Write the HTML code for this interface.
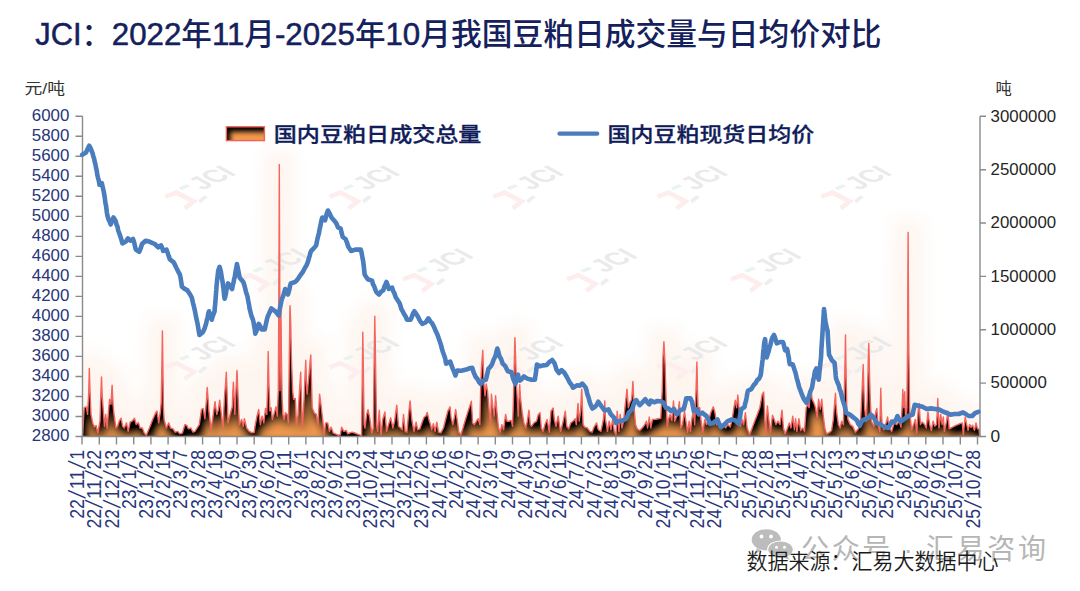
<!DOCTYPE html>
<html lang="zh"><head><meta charset="utf-8"><title>JCI</title>
<style>
html,body{margin:0;padding:0;background:#fff;}
body{width:1080px;height:591px;overflow:hidden;}
svg{display:block;}
text{font-family:"Liberation Sans","Noto Sans CJK SC",sans-serif;}
.nv{fill:#27367a;}
.sl{font-family:"DejaVu Sans","Liberation Sans",sans-serif;font-weight:200;}
.tt{fill:#14215c;font-weight:500;}
.lg{fill:#101d5a;font-weight:500;stroke:#101d5a;stroke-width:0.3px;}
</style></head><body>
<svg width="1080" height="591" viewBox="0 0 1080 591">
<defs>
<clipPath id="plot"><rect x="82.5" y="100" width="897.5" height="336.5"/></clipPath>
<filter id="glow" filterUnits="userSpaceOnUse" x="20" y="60" width="1040" height="440" color-interpolation-filters="sRGB">
<feMorphology in="SourceAlpha" operator="dilate" radius="14"/>
<feGaussianBlur stdDeviation="9"/>
<feComponentTransfer result="a"><feFuncA type="linear" slope="0.17"/></feComponentTransfer>
<feFlood flood-color="#f6c3a0"/><feComposite operator="in" in2="a"/>
</filter>
<filter id="inner" filterUnits="userSpaceOnUse" x="40" y="100" width="1000" height="380" color-interpolation-filters="sRGB">
<feComponentTransfer in="SourceAlpha"><feFuncA type="table" tableValues="1 0"/></feComponentTransfer>
<feOffset dx="3" dy="7"/>
<feGaussianBlur stdDeviation="5"/>
<feComponentTransfer><feFuncA type="linear" slope="1.35"/></feComponentTransfer>
<feComposite operator="in" in2="SourceAlpha" result="s"/>
<feFlood flood-color="#000"/><feComposite operator="in" in2="s" result="sh"/>
<feMerge><feMergeNode in="SourceGraphic"/><feMergeNode in="sh"/></feMerge>
</filter>
<filter id="inner2" filterUnits="userSpaceOnUse" x="200" y="110" width="90" height="50" color-interpolation-filters="sRGB">
<feComponentTransfer in="SourceAlpha"><feFuncA type="table" tableValues="1 0"/></feComponentTransfer>
<feOffset dx="4" dy="4.5"/>
<feGaussianBlur stdDeviation="2.6"/>
<feComposite operator="in" in2="SourceAlpha" result="s"/>
<feFlood flood-color="#000"/><feComposite operator="in" in2="s" result="sh"/>
<feMerge><feMergeNode in="SourceGraphic"/><feMergeNode in="sh"/></feMerge>
</filter>
<g id="wm">
<path d="M0,0 L11.2,-4.2 L28.4,4.6 L19.3,11.5" fill="none" stroke="#fdeeed" stroke-width="4.6"/>
<path d="M13.3,-9.1 L21.7,-12.6 L25,-10.5 L16.5,-6.8 Z" fill="#e8f4ed"/>
<path d="M33,3.5 L39,-1.5 L42.5,0.5 L35,6.5 Z" fill="#eeeeee"/>
<text transform="matrix(0.797,-0.372,0.875,0.485,37.4,-6.4)" font-size="28" fill="#eaeaea" font-weight="700">JCI</text>
</g>
</defs>
<rect width="1080" height="591" fill="#fff"/>

<g clip-path="url(#plot)"><path d="M82.5,436.1 L83.0,428.0 L84.2,407.7 L86.4,406.8 L87.6,414.4 L88.8,390.8 L89.3,368.4 L90.0,390.8 L91.0,414.4 L92.7,422.9 L94.4,427.1 L96.1,425.4 L97.8,433.0 L100.0,421.2 L100.8,395.8 L101.5,376.9 L102.2,395.8 L103.3,411.1 L104.5,426.3 L105.7,414.4 L107.1,428.0 L108.8,407.7 L109.6,399.2 L111.0,404.3 L112.1,385.3 L113.0,404.3 L113.8,412.7 L115.9,428.0 L117.6,426.3 L119.2,421.2 L121.1,418.2 L122.6,426.3 L124.3,428.0 L126.5,422.9 L128.2,431.4 L130.2,422.1 L132.4,420.9 L134.5,418.2 L136.2,424.6 L138.4,422.6 L140.1,428.0 L142.3,428.0 L144.3,433.0 L146.3,435.2 L149.4,428.0 L152.7,419.5 L156.1,411.9 L157.0,411.1 L158.7,422.9 L160.5,411.1 L161.2,402.6 L161.9,365.4 L162.4,330.9 L162.9,365.4 L163.4,407.7 L164.1,419.5 L166.3,428.0 L168.8,422.9 L170.5,428.0 L173.0,428.8 L175.1,432.2 L177.8,431.4 L179.8,433.9 L182.4,433.0 L184.9,424.6 L186.9,425.4 L188.3,428.8 L190.8,428.0 L193.0,432.2 L195.0,431.4 L197.1,428.0 L199.3,424.6 L201.5,409.4 L203.2,408.5 L204.9,418.7 L206.5,399.2 L207.2,387.4 L208.1,399.2 L208.9,411.1 L211.1,429.7 L213.3,414.4 L215.0,401.7 L216.7,414.4 L218.4,409.4 L219.7,400.1 L221.3,414.4 L223.0,428.0 L224.6,395.8 L225.7,382.3 L226.3,372.1 L227.0,390.8 L228.0,422.9 L230.6,412.7 L232.3,406.8 L232.9,390.8 L233.4,382.3 L234.1,395.8 L234.8,414.4 L236.0,390.8 L237.0,370.5 L237.8,390.8 L238.5,407.7 L239.4,424.6 L241.6,419.5 L243.3,426.3 L244.4,418.7 L246.6,428.0 L249.2,431.4 L251.7,432.7 L254.3,432.2 L255.0,426.3 L257.0,416.1 L258.7,409.4 L260.4,424.6 L262.1,416.1 L263.8,422.9 L265.5,408.5 L266.8,414.4 L267.7,382.3 L268.2,351.5 L268.9,382.3 L269.9,411.1 L271.1,407.7 L272.3,419.5 L273.9,414.4 L276.1,406.8 L277.3,416.1 L278.3,390.8 L278.9,289.2 L279.3,164.4 L279.7,272.3 L280.0,390.8 L280.4,356.9 L280.9,306.2 L281.4,356.9 L282.1,399.2 L282.9,414.4 L284.1,419.5 L285.5,412.7 L287.1,414.4 L288.5,422.9 L289.3,356.9 L290.0,305.7 L290.7,323.1 L291.4,356.9 L292.6,390.8 L293.6,399.2 L295.3,398.4 L296.4,424.6 L298.1,414.4 L299.5,390.8 L300.7,372.1 L301.5,404.3 L302.4,428.0 L304.1,399.2 L305.1,373.8 L305.8,360.3 L306.4,382.3 L307.1,394.1 L308.3,382.3 L309.1,373.8 L310.2,360.3 L310.8,354.9 L311.5,382.3 L312.2,407.7 L314.2,412.7 L316.2,414.4 L317.9,424.6 L318.9,407.7 L319.6,394.1 L320.5,400.9 L321.3,407.7 L322.7,419.5 L324.0,434.7 L325.7,422.9 L327.7,422.9 L329.4,431.4 L331.1,427.1 L333.2,433.0 L335.4,433.9 L337.9,435.2 L340.4,434.7 L341.6,427.1 L343.8,431.4 L346.4,430.5 L347.7,433.9 L349.7,433.0 L352.3,432.2 L354.8,433.0 L358.2,434.4 L361.6,435.6 L362.3,373.8 L362.8,332.2 L363.4,373.8 L364.1,424.6 L365.0,428.0 L366.7,414.4 L368.0,409.7 L369.7,417.8 L371.7,433.0 L373.4,428.0 L374.1,365.4 L374.8,316.3 L375.6,365.4 L376.5,424.6 L377.7,431.4 L378.5,419.5 L379.3,410.2 L380.2,424.6 L381.0,434.7 L382.7,419.5 L384.9,411.9 L386.6,431.4 L388.6,424.6 L390.7,417.8 L392.9,428.0 L394.6,421.2 L395.9,411.1 L396.8,405.1 L397.6,416.1 L398.5,426.3 L400.5,428.0 L402.2,429.7 L403.5,414.4 L405.2,431.4 L406.9,432.2 L408.6,414.4 L409.5,406.0 L410.1,400.9 L411.0,411.1 L412.0,421.2 L414.0,431.4 L416.1,422.1 L417.7,429.7 L419.9,428.8 L422.5,421.2 L424.2,417.0 L425.9,416.1 L427.2,412.4 L429.3,421.2 L430.0,422.9 L431.7,429.7 L433.4,423.7 L435.1,431.4 L436.8,422.1 L438.5,432.2 L441.0,432.7 L443.5,428.0 L445.6,419.5 L447.8,411.1 L450.0,406.8 L451.1,417.8 L452.8,424.6 L454.0,419.5 L455.7,409.4 L457.1,419.5 L458.8,432.2 L460.8,434.7 L463.0,428.0 L465.5,419.5 L468.1,411.1 L471.4,401.2 L472.6,422.9 L474.3,424.6 L476.5,421.2 L478.2,418.7 L479.9,424.6 L480.8,382.3 L481.6,365.4 L482.8,350.2 L483.8,382.3 L485.0,395.8 L486.2,384.0 L487.5,390.8 L489.2,411.1 L490.6,424.6 L491.4,394.1 L492.9,407.7 L494.3,416.1 L495.6,395.8 L496.8,411.1 L498.5,428.0 L500.2,432.2 L501.9,424.6 L503.6,429.7 L505.6,414.4 L507.0,421.2 L509.2,421.2 L511.2,420.4 L512.6,426.3 L513.7,390.8 L514.4,356.9 L514.9,337.8 L515.6,356.9 L516.3,382.3 L517.1,395.8 L518.3,416.1 L519.0,399.2 L519.7,384.8 L520.3,395.8 L521.0,402.6 L522.2,412.7 L523.9,422.9 L525.6,428.0 L527.3,421.2 L529.0,410.2 L530.2,424.6 L531.5,426.3 L534.0,422.9 L536.6,421.2 L538.3,414.4 L540.0,412.7 L541.3,428.0 L543.0,431.4 L545.0,424.6 L547.1,419.5 L549.3,432.2 L551.0,411.1 L553.2,408.0 L554.3,419.5 L556.0,426.3 L558.2,416.1 L559.4,424.6 L560.6,431.4 L562.8,422.9 L565.3,411.1 L566.7,426.3 L568.7,428.8 L570.8,422.9 L573.0,421.2 L575.2,418.7 L576.3,424.6 L578.0,403.4 L579.2,421.2 L580.6,411.1 L581.2,397.5 L581.8,389.1 L582.4,407.7 L583.1,424.6 L584.8,427.1 L587.3,428.0 L589.9,431.4 L592.1,432.2 L594.1,427.1 L596.6,422.9 L598.3,429.7 L600.9,431.4 L603.4,419.5 L604.3,407.7 L604.8,400.9 L605.4,419.5 L606.4,424.6 L607.5,431.4 L609.2,421.2 L610.9,429.7 L612.6,419.5 L614.3,431.4 L616.0,434.7 L617.2,411.1 L618.9,431.4 L620.2,414.4 L621.9,428.0 L623.6,421.2 L625.3,404.3 L627.0,389.1 L628.3,407.7 L630.0,402.6 L631.7,399.2 L632.4,389.1 L632.9,381.4 L633.6,395.8 L634.1,407.7 L635.5,424.6 L637.1,428.8 L639.7,430.5 L642.2,428.0 L644.8,424.6 L646.4,421.2 L647.6,428.0 L649.3,417.0 L650.7,428.0 L652.4,419.5 L655.8,419.2 L660.8,418.2 L662.2,390.8 L663.0,356.9 L663.9,341.7 L664.5,353.5 L665.1,365.4 L666.2,404.3 L667.3,426.3 L668.4,419.5 L670.1,414.4 L671.8,420.4 L673.5,400.9 L674.7,421.2 L676.1,417.8 L677.7,414.4 L679.4,401.7 L680.8,428.0 L682.5,424.6 L684.5,411.1 L685.9,421.2 L687.6,432.2 L689.2,421.2 L690.4,431.4 L692.1,417.8 L693.3,411.1 L694.7,424.6 L696.0,390.8 L696.9,362.0 L697.5,390.8 L698.0,407.7 L699.7,407.7 L701.1,421.2 L702.8,432.2 L704.8,419.5 L706.5,424.6 L708.5,421.2 L710.7,412.7 L713.3,406.8 L715.0,412.7 L716.7,424.6 L718.7,421.2 L720.9,428.0 L723.4,424.6 L725.5,428.0 L727.7,424.6 L730.2,427.1 L732.2,419.5 L733.9,407.7 L735.3,400.1 L736.6,407.7 L737.8,395.0 L739.0,407.7 L740.3,426.3 L742.0,419.5 L743.7,424.6 L745.4,412.7 L747.1,428.0 L749.6,434.7 L752.2,428.0 L754.7,421.2 L757.3,414.4 L759.8,407.7 L762.3,394.1 L763.7,392.1 L764.9,421.2 L765.7,433.0 L767.4,406.0 L768.8,419.5 L770.5,432.2 L772.5,415.3 L774.2,419.5 L775.9,424.6 L777.9,421.2 L780.0,424.6 L782.0,410.2 L783.4,428.0 L785.1,433.9 L787.6,428.0 L789.3,422.9 L791.0,428.0 L792.7,416.1 L794.4,429.7 L795.6,418.7 L796.9,431.4 L798.9,418.7 L800.6,430.5 L802.8,428.0 L804.5,431.4 L806.2,407.7 L807.9,404.3 L809.1,407.7 L810.1,394.1 L810.8,386.5 L811.5,394.1 L812.1,399.2 L813.8,402.6 L815.5,407.7 L817.2,417.8 L818.6,399.2 L820.3,409.4 L821.8,399.2 L823.1,414.4 L824.8,428.0 L826.5,433.9 L829.1,432.7 L831.6,430.5 L833.3,419.5 L834.5,404.3 L835.5,393.3 L836.0,404.3 L836.7,412.7 L838.4,424.6 L840.1,428.0 L841.7,421.2 L843.4,424.6 L844.8,373.8 L845.5,334.9 L846.1,373.8 L846.8,407.7 L848.0,419.5 L850.2,424.6 L852.7,426.3 L855.3,432.2 L857.8,429.7 L860.4,424.6 L862.1,390.8 L863.2,364.5 L863.9,390.8 L864.6,407.7 L866.3,421.2 L867.6,390.8 L868.3,356.9 L868.8,343.4 L869.5,373.8 L870.2,399.2 L871.4,421.2 L873.9,426.3 L875.6,412.7 L876.8,408.5 L878.1,424.6 L879.8,431.4 L880.3,407.7 L880.8,388.2 L881.3,407.7 L882.0,424.6 L884.0,429.7 L886.6,421.2 L887.6,417.0 L889.1,428.0 L891.7,431.4 L894.2,422.9 L896.7,424.6 L899.3,421.2 L901.0,427.1 L902.1,407.7 L902.8,389.4 L903.5,404.3 L903.8,407.7 L904.7,391.6 L905.2,407.7 L905.7,419.5 L906.9,407.7 L907.6,340.0 L908.1,232.4 L908.7,340.0 L909.6,407.7 L910.3,417.8 L911.6,429.7 L913.6,424.6 L915.3,419.5 L916.7,433.0 L918.4,407.7 L919.2,403.4 L919.9,416.1 L920.4,424.6 L922.1,422.1 L924.6,424.6 L926.3,428.0 L928.0,411.9 L928.9,419.5 L929.7,424.6 L931.4,430.5 L933.1,421.2 L934.8,426.3 L936.5,424.6 L937.3,411.1 L937.8,398.4 L938.3,412.7 L939.0,428.0 L940.7,414.4 L942.1,424.6 L943.3,417.0 L944.4,431.4 L946.6,421.2 L947.8,411.1 L949.2,428.8 L952.6,427.1 L955.9,425.4 L959.0,424.1 L960.0,423.7 L962.2,423.0 L963.3,434.8 L965.2,417.0 L966.7,424.4 L968.1,430.4 L969.6,424.4 L971.1,427.4 L972.6,425.2 L974.5,430.4 L976.0,423.0 L977.5,428.9 L979.0,428.9 L979.7,436.0 L979.7,436.5 L82.5,436.5 Z" fill="#000" stroke="#000" stroke-width="1.5" filter="url(#glow)"/></g>
<g clip-path="url(#plot)"><use href="#wm" x="165.3" y="196.8"/><use href="#wm" x="165.3" y="367.4"/><use href="#wm" x="329.3" y="196.8"/><use href="#wm" x="329.3" y="367.4"/><use href="#wm" x="493.3" y="196.8"/><use href="#wm" x="493.3" y="367.4"/><use href="#wm" x="657.3" y="196.8"/><use href="#wm" x="657.3" y="367.4"/><use href="#wm" x="821.3" y="196.8"/><use href="#wm" x="821.3" y="367.4"/><use href="#wm" x="239.0" y="279.4"/><use href="#wm" x="403.0" y="279.4"/><use href="#wm" x="567.0" y="279.4"/><use href="#wm" x="731.0" y="279.4"/></g>
<path d="M82.5,436.1 L83.0,428.0 L84.2,407.7 L86.4,406.8 L87.6,414.4 L88.8,390.8 L89.3,368.4 L90.0,390.8 L91.0,414.4 L92.7,422.9 L94.4,427.1 L96.1,425.4 L97.8,433.0 L100.0,421.2 L100.8,395.8 L101.5,376.9 L102.2,395.8 L103.3,411.1 L104.5,426.3 L105.7,414.4 L107.1,428.0 L108.8,407.7 L109.6,399.2 L111.0,404.3 L112.1,385.3 L113.0,404.3 L113.8,412.7 L115.9,428.0 L117.6,426.3 L119.2,421.2 L121.1,418.2 L122.6,426.3 L124.3,428.0 L126.5,422.9 L128.2,431.4 L130.2,422.1 L132.4,420.9 L134.5,418.2 L136.2,424.6 L138.4,422.6 L140.1,428.0 L142.3,428.0 L144.3,433.0 L146.3,435.2 L149.4,428.0 L152.7,419.5 L156.1,411.9 L157.0,411.1 L158.7,422.9 L160.5,411.1 L161.2,402.6 L161.9,365.4 L162.4,330.9 L162.9,365.4 L163.4,407.7 L164.1,419.5 L166.3,428.0 L168.8,422.9 L170.5,428.0 L173.0,428.8 L175.1,432.2 L177.8,431.4 L179.8,433.9 L182.4,433.0 L184.9,424.6 L186.9,425.4 L188.3,428.8 L190.8,428.0 L193.0,432.2 L195.0,431.4 L197.1,428.0 L199.3,424.6 L201.5,409.4 L203.2,408.5 L204.9,418.7 L206.5,399.2 L207.2,387.4 L208.1,399.2 L208.9,411.1 L211.1,429.7 L213.3,414.4 L215.0,401.7 L216.7,414.4 L218.4,409.4 L219.7,400.1 L221.3,414.4 L223.0,428.0 L224.6,395.8 L225.7,382.3 L226.3,372.1 L227.0,390.8 L228.0,422.9 L230.6,412.7 L232.3,406.8 L232.9,390.8 L233.4,382.3 L234.1,395.8 L234.8,414.4 L236.0,390.8 L237.0,370.5 L237.8,390.8 L238.5,407.7 L239.4,424.6 L241.6,419.5 L243.3,426.3 L244.4,418.7 L246.6,428.0 L249.2,431.4 L251.7,432.7 L254.3,432.2 L255.0,426.3 L257.0,416.1 L258.7,409.4 L260.4,424.6 L262.1,416.1 L263.8,422.9 L265.5,408.5 L266.8,414.4 L267.7,382.3 L268.2,351.5 L268.9,382.3 L269.9,411.1 L271.1,407.7 L272.3,419.5 L273.9,414.4 L276.1,406.8 L277.3,416.1 L278.3,390.8 L278.9,289.2 L279.3,164.4 L279.7,272.3 L280.0,390.8 L280.4,356.9 L280.9,306.2 L281.4,356.9 L282.1,399.2 L282.9,414.4 L284.1,419.5 L285.5,412.7 L287.1,414.4 L288.5,422.9 L289.3,356.9 L290.0,305.7 L290.7,323.1 L291.4,356.9 L292.6,390.8 L293.6,399.2 L295.3,398.4 L296.4,424.6 L298.1,414.4 L299.5,390.8 L300.7,372.1 L301.5,404.3 L302.4,428.0 L304.1,399.2 L305.1,373.8 L305.8,360.3 L306.4,382.3 L307.1,394.1 L308.3,382.3 L309.1,373.8 L310.2,360.3 L310.8,354.9 L311.5,382.3 L312.2,407.7 L314.2,412.7 L316.2,414.4 L317.9,424.6 L318.9,407.7 L319.6,394.1 L320.5,400.9 L321.3,407.7 L322.7,419.5 L324.0,434.7 L325.7,422.9 L327.7,422.9 L329.4,431.4 L331.1,427.1 L333.2,433.0 L335.4,433.9 L337.9,435.2 L340.4,434.7 L341.6,427.1 L343.8,431.4 L346.4,430.5 L347.7,433.9 L349.7,433.0 L352.3,432.2 L354.8,433.0 L358.2,434.4 L361.6,435.6 L362.3,373.8 L362.8,332.2 L363.4,373.8 L364.1,424.6 L365.0,428.0 L366.7,414.4 L368.0,409.7 L369.7,417.8 L371.7,433.0 L373.4,428.0 L374.1,365.4 L374.8,316.3 L375.6,365.4 L376.5,424.6 L377.7,431.4 L378.5,419.5 L379.3,410.2 L380.2,424.6 L381.0,434.7 L382.7,419.5 L384.9,411.9 L386.6,431.4 L388.6,424.6 L390.7,417.8 L392.9,428.0 L394.6,421.2 L395.9,411.1 L396.8,405.1 L397.6,416.1 L398.5,426.3 L400.5,428.0 L402.2,429.7 L403.5,414.4 L405.2,431.4 L406.9,432.2 L408.6,414.4 L409.5,406.0 L410.1,400.9 L411.0,411.1 L412.0,421.2 L414.0,431.4 L416.1,422.1 L417.7,429.7 L419.9,428.8 L422.5,421.2 L424.2,417.0 L425.9,416.1 L427.2,412.4 L429.3,421.2 L430.0,422.9 L431.7,429.7 L433.4,423.7 L435.1,431.4 L436.8,422.1 L438.5,432.2 L441.0,432.7 L443.5,428.0 L445.6,419.5 L447.8,411.1 L450.0,406.8 L451.1,417.8 L452.8,424.6 L454.0,419.5 L455.7,409.4 L457.1,419.5 L458.8,432.2 L460.8,434.7 L463.0,428.0 L465.5,419.5 L468.1,411.1 L471.4,401.2 L472.6,422.9 L474.3,424.6 L476.5,421.2 L478.2,418.7 L479.9,424.6 L480.8,382.3 L481.6,365.4 L482.8,350.2 L483.8,382.3 L485.0,395.8 L486.2,384.0 L487.5,390.8 L489.2,411.1 L490.6,424.6 L491.4,394.1 L492.9,407.7 L494.3,416.1 L495.6,395.8 L496.8,411.1 L498.5,428.0 L500.2,432.2 L501.9,424.6 L503.6,429.7 L505.6,414.4 L507.0,421.2 L509.2,421.2 L511.2,420.4 L512.6,426.3 L513.7,390.8 L514.4,356.9 L514.9,337.8 L515.6,356.9 L516.3,382.3 L517.1,395.8 L518.3,416.1 L519.0,399.2 L519.7,384.8 L520.3,395.8 L521.0,402.6 L522.2,412.7 L523.9,422.9 L525.6,428.0 L527.3,421.2 L529.0,410.2 L530.2,424.6 L531.5,426.3 L534.0,422.9 L536.6,421.2 L538.3,414.4 L540.0,412.7 L541.3,428.0 L543.0,431.4 L545.0,424.6 L547.1,419.5 L549.3,432.2 L551.0,411.1 L553.2,408.0 L554.3,419.5 L556.0,426.3 L558.2,416.1 L559.4,424.6 L560.6,431.4 L562.8,422.9 L565.3,411.1 L566.7,426.3 L568.7,428.8 L570.8,422.9 L573.0,421.2 L575.2,418.7 L576.3,424.6 L578.0,403.4 L579.2,421.2 L580.6,411.1 L581.2,397.5 L581.8,389.1 L582.4,407.7 L583.1,424.6 L584.8,427.1 L587.3,428.0 L589.9,431.4 L592.1,432.2 L594.1,427.1 L596.6,422.9 L598.3,429.7 L600.9,431.4 L603.4,419.5 L604.3,407.7 L604.8,400.9 L605.4,419.5 L606.4,424.6 L607.5,431.4 L609.2,421.2 L610.9,429.7 L612.6,419.5 L614.3,431.4 L616.0,434.7 L617.2,411.1 L618.9,431.4 L620.2,414.4 L621.9,428.0 L623.6,421.2 L625.3,404.3 L627.0,389.1 L628.3,407.7 L630.0,402.6 L631.7,399.2 L632.4,389.1 L632.9,381.4 L633.6,395.8 L634.1,407.7 L635.5,424.6 L637.1,428.8 L639.7,430.5 L642.2,428.0 L644.8,424.6 L646.4,421.2 L647.6,428.0 L649.3,417.0 L650.7,428.0 L652.4,419.5 L655.8,419.2 L660.8,418.2 L662.2,390.8 L663.0,356.9 L663.9,341.7 L664.5,353.5 L665.1,365.4 L666.2,404.3 L667.3,426.3 L668.4,419.5 L670.1,414.4 L671.8,420.4 L673.5,400.9 L674.7,421.2 L676.1,417.8 L677.7,414.4 L679.4,401.7 L680.8,428.0 L682.5,424.6 L684.5,411.1 L685.9,421.2 L687.6,432.2 L689.2,421.2 L690.4,431.4 L692.1,417.8 L693.3,411.1 L694.7,424.6 L696.0,390.8 L696.9,362.0 L697.5,390.8 L698.0,407.7 L699.7,407.7 L701.1,421.2 L702.8,432.2 L704.8,419.5 L706.5,424.6 L708.5,421.2 L710.7,412.7 L713.3,406.8 L715.0,412.7 L716.7,424.6 L718.7,421.2 L720.9,428.0 L723.4,424.6 L725.5,428.0 L727.7,424.6 L730.2,427.1 L732.2,419.5 L733.9,407.7 L735.3,400.1 L736.6,407.7 L737.8,395.0 L739.0,407.7 L740.3,426.3 L742.0,419.5 L743.7,424.6 L745.4,412.7 L747.1,428.0 L749.6,434.7 L752.2,428.0 L754.7,421.2 L757.3,414.4 L759.8,407.7 L762.3,394.1 L763.7,392.1 L764.9,421.2 L765.7,433.0 L767.4,406.0 L768.8,419.5 L770.5,432.2 L772.5,415.3 L774.2,419.5 L775.9,424.6 L777.9,421.2 L780.0,424.6 L782.0,410.2 L783.4,428.0 L785.1,433.9 L787.6,428.0 L789.3,422.9 L791.0,428.0 L792.7,416.1 L794.4,429.7 L795.6,418.7 L796.9,431.4 L798.9,418.7 L800.6,430.5 L802.8,428.0 L804.5,431.4 L806.2,407.7 L807.9,404.3 L809.1,407.7 L810.1,394.1 L810.8,386.5 L811.5,394.1 L812.1,399.2 L813.8,402.6 L815.5,407.7 L817.2,417.8 L818.6,399.2 L820.3,409.4 L821.8,399.2 L823.1,414.4 L824.8,428.0 L826.5,433.9 L829.1,432.7 L831.6,430.5 L833.3,419.5 L834.5,404.3 L835.5,393.3 L836.0,404.3 L836.7,412.7 L838.4,424.6 L840.1,428.0 L841.7,421.2 L843.4,424.6 L844.8,373.8 L845.5,334.9 L846.1,373.8 L846.8,407.7 L848.0,419.5 L850.2,424.6 L852.7,426.3 L855.3,432.2 L857.8,429.7 L860.4,424.6 L862.1,390.8 L863.2,364.5 L863.9,390.8 L864.6,407.7 L866.3,421.2 L867.6,390.8 L868.3,356.9 L868.8,343.4 L869.5,373.8 L870.2,399.2 L871.4,421.2 L873.9,426.3 L875.6,412.7 L876.8,408.5 L878.1,424.6 L879.8,431.4 L880.3,407.7 L880.8,388.2 L881.3,407.7 L882.0,424.6 L884.0,429.7 L886.6,421.2 L887.6,417.0 L889.1,428.0 L891.7,431.4 L894.2,422.9 L896.7,424.6 L899.3,421.2 L901.0,427.1 L902.1,407.7 L902.8,389.4 L903.5,404.3 L903.8,407.7 L904.7,391.6 L905.2,407.7 L905.7,419.5 L906.9,407.7 L907.6,340.0 L908.1,232.4 L908.7,340.0 L909.6,407.7 L910.3,417.8 L911.6,429.7 L913.6,424.6 L915.3,419.5 L916.7,433.0 L918.4,407.7 L919.2,403.4 L919.9,416.1 L920.4,424.6 L922.1,422.1 L924.6,424.6 L926.3,428.0 L928.0,411.9 L928.9,419.5 L929.7,424.6 L931.4,430.5 L933.1,421.2 L934.8,426.3 L936.5,424.6 L937.3,411.1 L937.8,398.4 L938.3,412.7 L939.0,428.0 L940.7,414.4 L942.1,424.6 L943.3,417.0 L944.4,431.4 L946.6,421.2 L947.8,411.1 L949.2,428.8 L952.6,427.1 L955.9,425.4 L959.0,424.1 L960.0,423.7 L962.2,423.0 L963.3,434.8 L965.2,417.0 L966.7,424.4 L968.1,430.4 L969.6,424.4 L971.1,427.4 L972.6,425.2 L974.5,430.4 L976.0,423.0 L977.5,428.9 L979.0,428.9 L979.7,436.0 L979.7,436.5 L82.5,436.5 Z" fill="#f2994d" filter="url(#inner)"/>
<path d="M82.5,436.1 L83.0,428.0 L84.2,407.7 L86.4,406.8 L87.6,414.4 L88.8,390.8 L89.3,368.4 L90.0,390.8 L91.0,414.4 L92.7,422.9 L94.4,427.1 L96.1,425.4 L97.8,433.0 L100.0,421.2 L100.8,395.8 L101.5,376.9 L102.2,395.8 L103.3,411.1 L104.5,426.3 L105.7,414.4 L107.1,428.0 L108.8,407.7 L109.6,399.2 L111.0,404.3 L112.1,385.3 L113.0,404.3 L113.8,412.7 L115.9,428.0 L117.6,426.3 L119.2,421.2 L121.1,418.2 L122.6,426.3 L124.3,428.0 L126.5,422.9 L128.2,431.4 L130.2,422.1 L132.4,420.9 L134.5,418.2 L136.2,424.6 L138.4,422.6 L140.1,428.0 L142.3,428.0 L144.3,433.0 L146.3,435.2 L149.4,428.0 L152.7,419.5 L156.1,411.9 L157.0,411.1 L158.7,422.9 L160.5,411.1 L161.2,402.6 L161.9,365.4 L162.4,330.9 L162.9,365.4 L163.4,407.7 L164.1,419.5 L166.3,428.0 L168.8,422.9 L170.5,428.0 L173.0,428.8 L175.1,432.2 L177.8,431.4 L179.8,433.9 L182.4,433.0 L184.9,424.6 L186.9,425.4 L188.3,428.8 L190.8,428.0 L193.0,432.2 L195.0,431.4 L197.1,428.0 L199.3,424.6 L201.5,409.4 L203.2,408.5 L204.9,418.7 L206.5,399.2 L207.2,387.4 L208.1,399.2 L208.9,411.1 L211.1,429.7 L213.3,414.4 L215.0,401.7 L216.7,414.4 L218.4,409.4 L219.7,400.1 L221.3,414.4 L223.0,428.0 L224.6,395.8 L225.7,382.3 L226.3,372.1 L227.0,390.8 L228.0,422.9 L230.6,412.7 L232.3,406.8 L232.9,390.8 L233.4,382.3 L234.1,395.8 L234.8,414.4 L236.0,390.8 L237.0,370.5 L237.8,390.8 L238.5,407.7 L239.4,424.6 L241.6,419.5 L243.3,426.3 L244.4,418.7 L246.6,428.0 L249.2,431.4 L251.7,432.7 L254.3,432.2 L255.0,426.3 L257.0,416.1 L258.7,409.4 L260.4,424.6 L262.1,416.1 L263.8,422.9 L265.5,408.5 L266.8,414.4 L267.7,382.3 L268.2,351.5 L268.9,382.3 L269.9,411.1 L271.1,407.7 L272.3,419.5 L273.9,414.4 L276.1,406.8 L277.3,416.1 L278.3,390.8 L278.9,289.2 L279.3,164.4 L279.7,272.3 L280.0,390.8 L280.4,356.9 L280.9,306.2 L281.4,356.9 L282.1,399.2 L282.9,414.4 L284.1,419.5 L285.5,412.7 L287.1,414.4 L288.5,422.9 L289.3,356.9 L290.0,305.7 L290.7,323.1 L291.4,356.9 L292.6,390.8 L293.6,399.2 L295.3,398.4 L296.4,424.6 L298.1,414.4 L299.5,390.8 L300.7,372.1 L301.5,404.3 L302.4,428.0 L304.1,399.2 L305.1,373.8 L305.8,360.3 L306.4,382.3 L307.1,394.1 L308.3,382.3 L309.1,373.8 L310.2,360.3 L310.8,354.9 L311.5,382.3 L312.2,407.7 L314.2,412.7 L316.2,414.4 L317.9,424.6 L318.9,407.7 L319.6,394.1 L320.5,400.9 L321.3,407.7 L322.7,419.5 L324.0,434.7 L325.7,422.9 L327.7,422.9 L329.4,431.4 L331.1,427.1 L333.2,433.0 L335.4,433.9 L337.9,435.2 L340.4,434.7 L341.6,427.1 L343.8,431.4 L346.4,430.5 L347.7,433.9 L349.7,433.0 L352.3,432.2 L354.8,433.0 L358.2,434.4 L361.6,435.6 L362.3,373.8 L362.8,332.2 L363.4,373.8 L364.1,424.6 L365.0,428.0 L366.7,414.4 L368.0,409.7 L369.7,417.8 L371.7,433.0 L373.4,428.0 L374.1,365.4 L374.8,316.3 L375.6,365.4 L376.5,424.6 L377.7,431.4 L378.5,419.5 L379.3,410.2 L380.2,424.6 L381.0,434.7 L382.7,419.5 L384.9,411.9 L386.6,431.4 L388.6,424.6 L390.7,417.8 L392.9,428.0 L394.6,421.2 L395.9,411.1 L396.8,405.1 L397.6,416.1 L398.5,426.3 L400.5,428.0 L402.2,429.7 L403.5,414.4 L405.2,431.4 L406.9,432.2 L408.6,414.4 L409.5,406.0 L410.1,400.9 L411.0,411.1 L412.0,421.2 L414.0,431.4 L416.1,422.1 L417.7,429.7 L419.9,428.8 L422.5,421.2 L424.2,417.0 L425.9,416.1 L427.2,412.4 L429.3,421.2 L430.0,422.9 L431.7,429.7 L433.4,423.7 L435.1,431.4 L436.8,422.1 L438.5,432.2 L441.0,432.7 L443.5,428.0 L445.6,419.5 L447.8,411.1 L450.0,406.8 L451.1,417.8 L452.8,424.6 L454.0,419.5 L455.7,409.4 L457.1,419.5 L458.8,432.2 L460.8,434.7 L463.0,428.0 L465.5,419.5 L468.1,411.1 L471.4,401.2 L472.6,422.9 L474.3,424.6 L476.5,421.2 L478.2,418.7 L479.9,424.6 L480.8,382.3 L481.6,365.4 L482.8,350.2 L483.8,382.3 L485.0,395.8 L486.2,384.0 L487.5,390.8 L489.2,411.1 L490.6,424.6 L491.4,394.1 L492.9,407.7 L494.3,416.1 L495.6,395.8 L496.8,411.1 L498.5,428.0 L500.2,432.2 L501.9,424.6 L503.6,429.7 L505.6,414.4 L507.0,421.2 L509.2,421.2 L511.2,420.4 L512.6,426.3 L513.7,390.8 L514.4,356.9 L514.9,337.8 L515.6,356.9 L516.3,382.3 L517.1,395.8 L518.3,416.1 L519.0,399.2 L519.7,384.8 L520.3,395.8 L521.0,402.6 L522.2,412.7 L523.9,422.9 L525.6,428.0 L527.3,421.2 L529.0,410.2 L530.2,424.6 L531.5,426.3 L534.0,422.9 L536.6,421.2 L538.3,414.4 L540.0,412.7 L541.3,428.0 L543.0,431.4 L545.0,424.6 L547.1,419.5 L549.3,432.2 L551.0,411.1 L553.2,408.0 L554.3,419.5 L556.0,426.3 L558.2,416.1 L559.4,424.6 L560.6,431.4 L562.8,422.9 L565.3,411.1 L566.7,426.3 L568.7,428.8 L570.8,422.9 L573.0,421.2 L575.2,418.7 L576.3,424.6 L578.0,403.4 L579.2,421.2 L580.6,411.1 L581.2,397.5 L581.8,389.1 L582.4,407.7 L583.1,424.6 L584.8,427.1 L587.3,428.0 L589.9,431.4 L592.1,432.2 L594.1,427.1 L596.6,422.9 L598.3,429.7 L600.9,431.4 L603.4,419.5 L604.3,407.7 L604.8,400.9 L605.4,419.5 L606.4,424.6 L607.5,431.4 L609.2,421.2 L610.9,429.7 L612.6,419.5 L614.3,431.4 L616.0,434.7 L617.2,411.1 L618.9,431.4 L620.2,414.4 L621.9,428.0 L623.6,421.2 L625.3,404.3 L627.0,389.1 L628.3,407.7 L630.0,402.6 L631.7,399.2 L632.4,389.1 L632.9,381.4 L633.6,395.8 L634.1,407.7 L635.5,424.6 L637.1,428.8 L639.7,430.5 L642.2,428.0 L644.8,424.6 L646.4,421.2 L647.6,428.0 L649.3,417.0 L650.7,428.0 L652.4,419.5 L655.8,419.2 L660.8,418.2 L662.2,390.8 L663.0,356.9 L663.9,341.7 L664.5,353.5 L665.1,365.4 L666.2,404.3 L667.3,426.3 L668.4,419.5 L670.1,414.4 L671.8,420.4 L673.5,400.9 L674.7,421.2 L676.1,417.8 L677.7,414.4 L679.4,401.7 L680.8,428.0 L682.5,424.6 L684.5,411.1 L685.9,421.2 L687.6,432.2 L689.2,421.2 L690.4,431.4 L692.1,417.8 L693.3,411.1 L694.7,424.6 L696.0,390.8 L696.9,362.0 L697.5,390.8 L698.0,407.7 L699.7,407.7 L701.1,421.2 L702.8,432.2 L704.8,419.5 L706.5,424.6 L708.5,421.2 L710.7,412.7 L713.3,406.8 L715.0,412.7 L716.7,424.6 L718.7,421.2 L720.9,428.0 L723.4,424.6 L725.5,428.0 L727.7,424.6 L730.2,427.1 L732.2,419.5 L733.9,407.7 L735.3,400.1 L736.6,407.7 L737.8,395.0 L739.0,407.7 L740.3,426.3 L742.0,419.5 L743.7,424.6 L745.4,412.7 L747.1,428.0 L749.6,434.7 L752.2,428.0 L754.7,421.2 L757.3,414.4 L759.8,407.7 L762.3,394.1 L763.7,392.1 L764.9,421.2 L765.7,433.0 L767.4,406.0 L768.8,419.5 L770.5,432.2 L772.5,415.3 L774.2,419.5 L775.9,424.6 L777.9,421.2 L780.0,424.6 L782.0,410.2 L783.4,428.0 L785.1,433.9 L787.6,428.0 L789.3,422.9 L791.0,428.0 L792.7,416.1 L794.4,429.7 L795.6,418.7 L796.9,431.4 L798.9,418.7 L800.6,430.5 L802.8,428.0 L804.5,431.4 L806.2,407.7 L807.9,404.3 L809.1,407.7 L810.1,394.1 L810.8,386.5 L811.5,394.1 L812.1,399.2 L813.8,402.6 L815.5,407.7 L817.2,417.8 L818.6,399.2 L820.3,409.4 L821.8,399.2 L823.1,414.4 L824.8,428.0 L826.5,433.9 L829.1,432.7 L831.6,430.5 L833.3,419.5 L834.5,404.3 L835.5,393.3 L836.0,404.3 L836.7,412.7 L838.4,424.6 L840.1,428.0 L841.7,421.2 L843.4,424.6 L844.8,373.8 L845.5,334.9 L846.1,373.8 L846.8,407.7 L848.0,419.5 L850.2,424.6 L852.7,426.3 L855.3,432.2 L857.8,429.7 L860.4,424.6 L862.1,390.8 L863.2,364.5 L863.9,390.8 L864.6,407.7 L866.3,421.2 L867.6,390.8 L868.3,356.9 L868.8,343.4 L869.5,373.8 L870.2,399.2 L871.4,421.2 L873.9,426.3 L875.6,412.7 L876.8,408.5 L878.1,424.6 L879.8,431.4 L880.3,407.7 L880.8,388.2 L881.3,407.7 L882.0,424.6 L884.0,429.7 L886.6,421.2 L887.6,417.0 L889.1,428.0 L891.7,431.4 L894.2,422.9 L896.7,424.6 L899.3,421.2 L901.0,427.1 L902.1,407.7 L902.8,389.4 L903.5,404.3 L903.8,407.7 L904.7,391.6 L905.2,407.7 L905.7,419.5 L906.9,407.7 L907.6,340.0 L908.1,232.4 L908.7,340.0 L909.6,407.7 L910.3,417.8 L911.6,429.7 L913.6,424.6 L915.3,419.5 L916.7,433.0 L918.4,407.7 L919.2,403.4 L919.9,416.1 L920.4,424.6 L922.1,422.1 L924.6,424.6 L926.3,428.0 L928.0,411.9 L928.9,419.5 L929.7,424.6 L931.4,430.5 L933.1,421.2 L934.8,426.3 L936.5,424.6 L937.3,411.1 L937.8,398.4 L938.3,412.7 L939.0,428.0 L940.7,414.4 L942.1,424.6 L943.3,417.0 L944.4,431.4 L946.6,421.2 L947.8,411.1 L949.2,428.8 L952.6,427.1 L955.9,425.4 L959.0,424.1 L960.0,423.7 L962.2,423.0 L963.3,434.8 L965.2,417.0 L966.7,424.4 L968.1,430.4 L969.6,424.4 L971.1,427.4 L972.6,425.2 L974.5,430.4 L976.0,423.0 L977.5,428.9 L979.0,428.9 L979.7,436.0" fill="none" stroke="#f5655f" stroke-width="1.4" stroke-linejoin="round"/>
<path d="M82.5,116.3 V436.5 H980.0 V116.3" fill="none" stroke="#8a8a8a" stroke-width="1.4"/>
<path d="M82.5,116.3 h-7 M82.5,136.3 h-7 M82.5,156.3 h-7 M82.5,176.3 h-7 M82.5,196.3 h-7 M82.5,216.4 h-7 M82.5,236.4 h-7 M82.5,256.4 h-7 M82.5,276.4 h-7 M82.5,296.4 h-7 M82.5,316.4 h-7 M82.5,336.4 h-7 M82.5,356.4 h-7 M82.5,376.5 h-7 M82.5,396.5 h-7 M82.5,416.5 h-7 M82.5,436.5 h-7 M980.0,116.3 h6 M980.0,169.7 h6 M980.0,223.0 h6 M980.0,276.4 h6 M980.0,329.8 h6 M980.0,383.1 h6 M980.0,436.5 h6 M82.0,436.5 v8 M99.3,436.5 v8 M116.5,436.5 v8 M133.7,436.5 v8 M150.9,436.5 v8 M168.1,436.5 v8 M185.4,436.5 v8 M202.6,436.5 v8 M219.8,436.5 v8 M237.0,436.5 v8 M254.2,436.5 v8 M271.5,436.5 v8 M288.7,436.5 v8 M305.9,436.5 v8 M323.1,436.5 v8 M340.3,436.5 v8 M357.6,436.5 v8 M374.8,436.5 v8 M392.0,436.5 v8 M409.2,436.5 v8 M426.4,436.5 v8 M443.7,436.5 v8 M460.9,436.5 v8 M478.1,436.5 v8 M495.3,436.5 v8 M512.5,436.5 v8 M529.8,436.5 v8 M547.0,436.5 v8 M564.2,436.5 v8 M581.4,436.5 v8 M598.6,436.5 v8 M615.9,436.5 v8 M633.1,436.5 v8 M650.3,436.5 v8 M667.5,436.5 v8 M684.7,436.5 v8 M702.0,436.5 v8 M719.2,436.5 v8 M736.4,436.5 v8 M753.6,436.5 v8 M770.8,436.5 v8 M788.1,436.5 v8 M805.3,436.5 v8 M822.5,436.5 v8 M839.7,436.5 v8 M856.9,436.5 v8 M874.2,436.5 v8 M891.4,436.5 v8 M908.6,436.5 v8 M925.8,436.5 v8 M943.0,436.5 v8 M960.3,436.5 v8 M977.5,436.5 v8" fill="none" stroke="#8a8a8a" stroke-width="1.4"/>
<path d="M82.2,154.7 L86.1,152.4 L87.7,148.8 L89.2,145.7 L90.9,148.9 L92.6,153.3 L93.3,156.3 L94.0,158.1 L94.7,161.7 L95.4,164.4 L96.0,167.6 L96.7,170.5 L97.3,174.8 L98.1,178.1 L98.8,180.6 L99.5,184.8 L101.8,183.1 L102.5,186.4 L103.2,189.1 L103.9,192.5 L104.6,196.5 L105.0,199.6 L105.5,203.5 L106.0,205.4 L106.4,208.7 L106.9,212.6 L107.4,215.5 L108.5,219.3 L109.6,221.6 L110.7,224.5 L112.1,220.8 L113.5,217.5 L115.7,221.1 L116.6,224.9 L117.4,226.2 L118.2,230.6 L119.1,232.8 L120.2,236.0 L121.3,239.3 L122.4,243.4 L126.1,241.2 L128.0,238.4 L130.3,240.7 L133.0,239.0 L134.0,241.8 L134.9,245.7 L135.8,249.6 L139.2,251.8 L140.6,248.5 L142.0,244.0 L145.6,240.7 L149.8,241.8 L154.8,244.0 L158.2,247.4 L161.0,245.4 L162.1,247.6 L163.2,251.0 L166.5,249.6 L167.7,253.0 L168.8,256.4 L169.9,259.4 L173.5,262.1 L174.9,264.7 L176.3,267.7 L178.1,271.3 L179.9,274.7 L180.4,276.9 L180.9,279.9 L181.4,283.2 L181.9,286.7 L184.7,288.9 L187.5,290.4 L189.6,293.7 L191.7,297.3 L192.3,299.8 L193.0,303.1 L193.7,305.6 L194.3,308.1 L195.0,311.3 L195.8,315.5 L196.5,319.1 L197.3,322.5 L197.8,325.1 L198.4,328.9 L198.9,331.9 L199.5,335.0 L202.8,332.2 L204.2,329.4 L205.6,325.3 L206.3,322.9 L207.0,319.3 L207.6,317.7 L208.3,313.4 L209.0,311.3 L209.9,313.9 L210.8,317.3 L211.8,319.7 L212.7,316.2 L213.6,314.1 L214.6,311.3 L214.8,307.4 L215.1,305.4 L215.3,302.5 L215.6,299.0 L215.8,296.5 L216.1,292.3 L216.3,289.9 L216.5,286.6 L216.8,283.4 L217.1,280.4 L217.5,277.0 L217.8,274.6 L218.2,270.8 L219.6,266.9 L221.0,272.2 L221.7,277.2 L222.4,280.6 L222.8,283.6 L223.1,286.9 L223.5,288.9 L223.9,293.0 L224.2,296.0 L224.6,298.7 L225.3,296.5 L226.0,293.2 L226.6,289.1 L227.3,286.2 L228.0,283.4 L230.1,286.5 L232.1,289.0 L232.8,285.0 L233.5,282.6 L234.2,278.9 L234.9,276.4 L235.4,272.6 L235.9,269.5 L236.4,267.7 L236.9,264.1 L237.7,267.5 L238.6,272.2 L239.7,277.8 L243.3,282.0 L244.2,284.7 L245.1,288.1 L246.0,292.1 L246.9,294.5 L247.6,297.1 L248.3,301.2 L249.0,304.7 L249.6,308.6 L250.3,311.3 L251.1,314.7 L252.0,317.5 L252.8,319.3 L253.6,322.5 L254.2,326.0 L254.8,329.6 L255.3,333.6 L256.4,331.1 L257.6,327.9 L258.7,323.9 L260.1,326.0 L261.5,329.4 L264.8,329.4 L265.5,325.7 L266.2,322.7 L266.9,319.5 L267.6,316.9 L268.8,314.1 L270.0,311.5 L271.2,308.5 L275.4,311.3 L278.8,315.5 L279.3,312.0 L279.9,308.4 L280.4,306.1 L281.0,303.0 L281.6,300.1 L282.5,297.5 L283.4,295.4 L284.3,292.1 L285.2,289.0 L286.6,291.8 L288.0,294.5 L288.7,292.0 L289.4,289.3 L290.1,285.4 L290.8,283.4 L295.0,282.0 L296.8,280.4 L298.7,277.8 L300.5,275.0 L302.8,272.0 L305.0,267.7 L306.4,265.5 L307.8,262.1 L308.6,259.2 L309.5,256.4 L310.3,253.1 L311.1,251.0 L313.7,248.4 L316.2,245.4 L316.9,241.5 L317.6,238.3 L318.3,235.5 L319.0,232.8 L319.6,229.2 L320.3,226.4 L321.0,222.8 L321.6,219.7 L322.3,217.5 L325.1,220.3 L326.0,216.4 L327.0,213.0 L327.9,210.5 L329.7,213.7 L331.5,217.5 L335.2,221.7 L336.5,223.6 L337.9,227.3 L340.7,228.6 L341.4,232.1 L342.0,234.4 L342.7,237.0 L345.5,239.0 L346.9,242.3 L348.3,246.8 L351.1,251.0 L355.3,249.6 L360.8,249.6 L361.6,252.9 L362.3,256.8 L363.1,260.8 L363.5,264.0 L363.9,267.1 L364.3,271.9 L364.7,274.7 L367.8,279.2 L372.0,280.6 L373.0,284.3 L374.1,286.1 L375.1,288.9 L376.2,291.8 L379.0,294.5 L381.1,291.7 L383.2,290.4 L384.3,286.8 L385.4,284.5 L386.5,282.0 L387.6,285.0 L388.8,289.0 L392.1,287.6 L393.3,291.4 L394.5,293.5 L395.7,297.3 L398.5,301.5 L399.9,303.9 L401.3,308.8 L402.7,311.3 L404.1,314.1 L405.5,316.2 L406.9,319.7 L410.5,319.7 L411.8,317.0 L413.1,313.2 L414.4,311.3 L416.3,314.1 L418.1,316.9 L420.2,321.2 L422.3,323.9 L425.6,322.5 L428.4,318.3 L430.2,321.3 L432.0,323.1 L434.2,327.3 L435.5,330.6 L436.8,333.2 L438.0,336.2 L439.3,340.0 L440.2,342.6 L441.0,345.0 L441.8,348.5 L443.0,352.3 L444.1,355.3 L445.2,358.6 L446.1,363.7 L450.3,361.7 L451.6,365.7 L452.8,368.8 L454.1,371.8 L455.4,375.5 L457.1,370.5 L461.3,370.8 L466.4,369.6 L469.3,368.3 L472.3,367.9 L473.3,371.4 L474.3,373.8 L475.8,377.2 L477.4,378.9 L479.1,382.1 L480.8,384.0 L483.3,380.6 L485.8,379.8 L486.7,376.6 L487.5,373.0 L488.4,368.8 L490.9,366.2 L492.3,363.6 L493.7,359.5 L495.1,356.9 L495.9,354.1 L496.6,351.0 L497.3,348.5 L498.3,351.4 L499.4,356.1 L501.1,359.0 L502.7,363.7 L505.3,366.2 L507.8,371.3 L511.2,372.1 L512.2,375.1 L513.2,378.9 L515.4,384.0 L516.3,380.5 L517.1,378.1 L518.0,374.7 L518.8,378.5 L519.7,380.6 L522.2,378.6 L523.9,376.4 L527.3,378.6 L531.5,379.8 L534.9,379.8 L535.3,376.6 L535.7,374.5 L536.1,371.5 L536.5,368.4 L536.9,364.5 L540.0,366.2 L543.0,365.4 L546.7,365.0 L549.3,362.0 L552.1,360.0 L554.3,362.8 L555.4,366.0 L556.5,369.6 L558.9,373.0 L561.6,370.1 L564.5,373.0 L567.0,377.2 L569.6,382.3 L571.3,384.5 L573.0,387.7 L577.2,385.3 L579.7,385.7 L582.3,383.6 L585.6,387.4 L586.5,390.3 L587.3,394.1 L588.2,396.4 L589.0,399.2 L589.9,402.6 L591.1,405.8 L592.4,408.5 L594.9,406.8 L596.6,405.0 L598.3,401.7 L601.2,406.0 L604.3,410.2 L605.0,410.2 L608.4,409.4 L610.9,414.4 L614.3,417.8 L616.0,422.9 L618.5,421.2 L621.9,420.9 L626.1,418.7 L627.4,416.3 L628.7,412.7 L632.1,409.4 L633.3,405.5 L634.6,401.7 L636.3,400.1 L638.0,402.9 L639.7,405.1 L642.2,402.6 L645.3,399.2 L647.3,402.3 L649.3,404.3 L650.7,400.6 L654.1,402.3 L657.4,401.0 L660.8,401.2 L663.4,402.6 L665.9,407.7 L668.4,408.5 L671.0,411.1 L674.0,409.0 L675.5,412.0 L676.9,414.4 L680.3,410.2 L683.7,409.0 L684.5,406.2 L685.4,402.4 L686.2,398.4 L690.4,398.4 L692.1,401.7 L692.7,405.3 L693.3,407.9 L693.8,411.1 L696.4,409.4 L698.9,414.4 L702.3,412.7 L706.5,416.1 L708.2,419.4 L709.9,423.7 L713.3,422.9 L717.5,419.5 L719.2,423.8 L720.9,427.1 L724.3,424.6 L727.7,421.2 L731.9,419.5 L735.3,420.4 L738.6,423.7 L739.2,420.6 L739.7,418.5 L740.2,416.0 L740.7,412.1 L741.2,409.4 L744.6,406.8 L745.2,403.4 L745.9,401.2 L746.6,397.6 L747.3,393.4 L748.0,390.8 L751.3,389.1 L753.5,385.4 L755.6,383.1 L757.3,380.0 L759.0,378.8 L760.6,375.5 L761.1,372.7 L761.5,368.1 L761.9,366.0 L762.3,362.0 L762.7,359.5 L763.0,355.5 L763.3,351.6 L763.7,348.5 L764.0,345.1 L764.5,341.5 L765.1,339.2 L765.3,341.4 L765.6,346.1 L765.9,348.6 L766.2,351.4 L766.4,355.1 L766.7,357.4 L767.7,354.0 L768.6,351.5 L769.5,347.6 L770.4,344.9 L771.4,340.6 L772.3,337.8 L774.0,335.0 L774.9,337.4 L775.8,340.2 L776.8,343.4 L780.1,342.0 L782.9,342.0 L783.7,344.3 L784.4,347.7 L785.2,350.4 L787.1,349.0 L787.7,351.6 L788.2,355.0 L788.8,357.5 L789.3,362.0 L789.9,364.3 L792.7,364.3 L793.6,366.9 L794.5,369.8 L795.5,372.7 L796.2,375.7 L796.9,379.0 L797.6,380.9 L798.3,383.9 L799.2,387.4 L800.1,389.5 L801.1,392.3 L802.5,395.8 L803.9,399.2 L806.6,402.9 L808.0,399.0 L809.4,395.0 L810.4,391.4 L811.3,389.4 L812.2,386.7 L812.8,383.0 L813.3,379.6 L813.9,378.0 L814.5,373.8 L815.0,371.3 L816.4,368.5 L817.2,372.2 L817.9,376.4 L818.7,379.7 L819.0,376.8 L819.3,373.4 L819.6,370.7 L819.9,367.8 L820.2,365.2 L820.6,361.0 L820.9,358.8 L821.1,355.8 L821.3,352.1 L821.4,349.0 L821.6,346.8 L821.8,343.3 L822.0,340.3 L822.2,337.5 L822.4,334.7 L822.6,330.8 L822.8,327.6 L823.0,324.8 L823.2,321.5 L823.4,318.4 L823.6,315.6 L823.8,312.1 L824.0,309.1 L824.4,312.5 L824.8,315.7 L825.2,319.9 L825.6,322.5 L826.3,325.6 L826.9,328.7 L827.6,330.8 L827.8,334.6 L827.9,336.3 L828.1,339.8 L828.3,343.5 L828.5,346.3 L828.6,348.0 L828.8,350.9 L829.0,354.6 L830.4,357.3 L831.8,360.1 L834.6,362.9 L834.8,365.2 L835.1,368.6 L835.4,371.4 L835.7,375.5 L836.0,378.3 L837.4,382.3 L838.8,385.3 L839.7,389.2 L840.6,391.2 L841.5,395.0 L842.3,398.2 L843.0,400.9 L843.8,403.4 L844.7,406.0 L845.6,410.6 L846.6,413.2 L849.9,414.6 L853.3,417.4 L856.9,420.2 L858.3,423.8 L859.7,425.8 L861.1,422.5 L862.5,420.2 L866.7,418.8 L868.8,417.5 L870.9,414.6 L873.6,417.4 L875.0,420.0 L876.4,423.0 L880.6,424.4 L884.8,427.1 L888.4,428.0 L890.1,424.8 L891.8,421.6 L894.6,421.6 L896.0,419.7 L897.4,416.0 L899.1,419.4 L900.7,421.6 L904.4,418.8 L908.5,416.0 L912.7,414.6 L913.4,410.7 L914.0,407.9 L914.7,404.8 L918.3,405.7 L922.5,406.8 L926.7,409.0 L930.9,408.4 L935.1,409.0 L939.3,409.6 L943.4,411.8 L947.6,413.2 L950.4,414.6 L954.6,414.0 L958.8,414.0 L963.0,412.4 L965.8,414.0 L968.6,416.0 L972.2,416.0 L975.0,413.2 L978.3,411.8" fill="none" stroke="#4a7dbd" stroke-width="4.6" stroke-linejoin="round" stroke-linecap="round"/>
<text class="nv" x="69.4" y="120.7" font-size="16.9" text-anchor="end">6000</text>
<text class="nv" x="69.4" y="140.7" font-size="16.9" text-anchor="end">5800</text>
<text class="nv" x="69.4" y="160.7" font-size="16.9" text-anchor="end">5600</text>
<text class="nv" x="69.4" y="180.7" font-size="16.9" text-anchor="end">5400</text>
<text class="nv" x="69.4" y="200.8" font-size="16.9" text-anchor="end">5200</text>
<text class="nv" x="69.4" y="220.8" font-size="16.9" text-anchor="end">5000</text>
<text class="nv" x="69.4" y="240.8" font-size="16.9" text-anchor="end">4800</text>
<text class="nv" x="69.4" y="260.8" font-size="16.9" text-anchor="end">4600</text>
<text class="nv" x="69.4" y="280.8" font-size="16.9" text-anchor="end">4400</text>
<text class="nv" x="69.4" y="300.8" font-size="16.9" text-anchor="end">4200</text>
<text class="nv" x="69.4" y="320.8" font-size="16.9" text-anchor="end">4000</text>
<text class="nv" x="69.4" y="340.8" font-size="16.9" text-anchor="end">3800</text>
<text class="nv" x="69.4" y="360.8" font-size="16.9" text-anchor="end">3600</text>
<text class="nv" x="69.4" y="380.9" font-size="16.9" text-anchor="end">3400</text>
<text class="nv" x="69.4" y="400.9" font-size="16.9" text-anchor="end">3200</text>
<text class="nv" x="69.4" y="420.9" font-size="16.9" text-anchor="end">3000</text>
<text class="nv" x="69.4" y="440.9" font-size="16.9" text-anchor="end">2800</text>
<text x="990.6" y="121.5" font-size="17.3" fill="#262626" textLength="65.5" lengthAdjust="spacingAndGlyphs">3000000</text>
<text x="990.6" y="174.9" font-size="17.3" fill="#262626" textLength="65.5" lengthAdjust="spacingAndGlyphs">2500000</text>
<text x="990.6" y="228.2" font-size="17.3" fill="#262626" textLength="65.5" lengthAdjust="spacingAndGlyphs">2000000</text>
<text x="990.6" y="281.6" font-size="17.3" fill="#262626" textLength="65.5" lengthAdjust="spacingAndGlyphs">1500000</text>
<text x="990.6" y="335.0" font-size="17.3" fill="#262626" textLength="65.5" lengthAdjust="spacingAndGlyphs">1000000</text>
<text x="990.6" y="388.3" font-size="17.3" fill="#262626" textLength="56.2" lengthAdjust="spacingAndGlyphs">500000</text>
<text x="990.6" y="441.7" font-size="17.3" fill="#262626">0</text>
<text class="nv" transform="translate(84.0,450) rotate(-90)" font-size="20.4" text-anchor="end"><tspan textLength="19.6" lengthAdjust="spacingAndGlyphs">22</tspan><tspan class="sl" font-size="21.6" textLength="9.9" lengthAdjust="spacingAndGlyphs">/</tspan><tspan textLength="19.6" lengthAdjust="spacingAndGlyphs">11</tspan><tspan class="sl" font-size="21.6" textLength="9.9" lengthAdjust="spacingAndGlyphs">/</tspan><tspan textLength="9.8" lengthAdjust="spacingAndGlyphs">1</tspan></text>
<text class="nv" transform="translate(101.3,450) rotate(-90)" font-size="20.4" text-anchor="end"><tspan textLength="19.6" lengthAdjust="spacingAndGlyphs">22</tspan><tspan class="sl" font-size="21.6" textLength="9.9" lengthAdjust="spacingAndGlyphs">/</tspan><tspan textLength="19.6" lengthAdjust="spacingAndGlyphs">11</tspan><tspan class="sl" font-size="21.6" textLength="9.9" lengthAdjust="spacingAndGlyphs">/</tspan><tspan textLength="19.6" lengthAdjust="spacingAndGlyphs">22</tspan></text>
<text class="nv" transform="translate(118.5,450) rotate(-90)" font-size="20.4" text-anchor="end"><tspan textLength="19.6" lengthAdjust="spacingAndGlyphs">22</tspan><tspan class="sl" font-size="21.6" textLength="9.9" lengthAdjust="spacingAndGlyphs">/</tspan><tspan textLength="19.6" lengthAdjust="spacingAndGlyphs">12</tspan><tspan class="sl" font-size="21.6" textLength="9.9" lengthAdjust="spacingAndGlyphs">/</tspan><tspan textLength="19.6" lengthAdjust="spacingAndGlyphs">13</tspan></text>
<text class="nv" transform="translate(135.7,450) rotate(-90)" font-size="20.4" text-anchor="end"><tspan textLength="19.6" lengthAdjust="spacingAndGlyphs">23</tspan><tspan class="sl" font-size="21.6" textLength="9.9" lengthAdjust="spacingAndGlyphs">/</tspan><tspan textLength="9.8" lengthAdjust="spacingAndGlyphs">1</tspan><tspan class="sl" font-size="21.6" textLength="9.9" lengthAdjust="spacingAndGlyphs">/</tspan><tspan textLength="9.8" lengthAdjust="spacingAndGlyphs">3</tspan></text>
<text class="nv" transform="translate(152.9,450) rotate(-90)" font-size="20.4" text-anchor="end"><tspan textLength="19.6" lengthAdjust="spacingAndGlyphs">23</tspan><tspan class="sl" font-size="21.6" textLength="9.9" lengthAdjust="spacingAndGlyphs">/</tspan><tspan textLength="9.8" lengthAdjust="spacingAndGlyphs">1</tspan><tspan class="sl" font-size="21.6" textLength="9.9" lengthAdjust="spacingAndGlyphs">/</tspan><tspan textLength="19.6" lengthAdjust="spacingAndGlyphs">24</tspan></text>
<text class="nv" transform="translate(170.1,450) rotate(-90)" font-size="20.4" text-anchor="end"><tspan textLength="19.6" lengthAdjust="spacingAndGlyphs">23</tspan><tspan class="sl" font-size="21.6" textLength="9.9" lengthAdjust="spacingAndGlyphs">/</tspan><tspan textLength="9.8" lengthAdjust="spacingAndGlyphs">2</tspan><tspan class="sl" font-size="21.6" textLength="9.9" lengthAdjust="spacingAndGlyphs">/</tspan><tspan textLength="19.6" lengthAdjust="spacingAndGlyphs">14</tspan></text>
<text class="nv" transform="translate(187.4,450) rotate(-90)" font-size="20.4" text-anchor="end"><tspan textLength="19.6" lengthAdjust="spacingAndGlyphs">23</tspan><tspan class="sl" font-size="21.6" textLength="9.9" lengthAdjust="spacingAndGlyphs">/</tspan><tspan textLength="9.8" lengthAdjust="spacingAndGlyphs">3</tspan><tspan class="sl" font-size="21.6" textLength="9.9" lengthAdjust="spacingAndGlyphs">/</tspan><tspan textLength="9.8" lengthAdjust="spacingAndGlyphs">7</tspan></text>
<text class="nv" transform="translate(204.6,450) rotate(-90)" font-size="20.4" text-anchor="end"><tspan textLength="19.6" lengthAdjust="spacingAndGlyphs">23</tspan><tspan class="sl" font-size="21.6" textLength="9.9" lengthAdjust="spacingAndGlyphs">/</tspan><tspan textLength="9.8" lengthAdjust="spacingAndGlyphs">3</tspan><tspan class="sl" font-size="21.6" textLength="9.9" lengthAdjust="spacingAndGlyphs">/</tspan><tspan textLength="19.6" lengthAdjust="spacingAndGlyphs">28</tspan></text>
<text class="nv" transform="translate(221.8,450) rotate(-90)" font-size="20.4" text-anchor="end"><tspan textLength="19.6" lengthAdjust="spacingAndGlyphs">23</tspan><tspan class="sl" font-size="21.6" textLength="9.9" lengthAdjust="spacingAndGlyphs">/</tspan><tspan textLength="9.8" lengthAdjust="spacingAndGlyphs">4</tspan><tspan class="sl" font-size="21.6" textLength="9.9" lengthAdjust="spacingAndGlyphs">/</tspan><tspan textLength="19.6" lengthAdjust="spacingAndGlyphs">18</tspan></text>
<text class="nv" transform="translate(239.0,450) rotate(-90)" font-size="20.4" text-anchor="end"><tspan textLength="19.6" lengthAdjust="spacingAndGlyphs">23</tspan><tspan class="sl" font-size="21.6" textLength="9.9" lengthAdjust="spacingAndGlyphs">/</tspan><tspan textLength="9.8" lengthAdjust="spacingAndGlyphs">5</tspan><tspan class="sl" font-size="21.6" textLength="9.9" lengthAdjust="spacingAndGlyphs">/</tspan><tspan textLength="9.8" lengthAdjust="spacingAndGlyphs">9</tspan></text>
<text class="nv" transform="translate(256.2,450) rotate(-90)" font-size="20.4" text-anchor="end"><tspan textLength="19.6" lengthAdjust="spacingAndGlyphs">23</tspan><tspan class="sl" font-size="21.6" textLength="9.9" lengthAdjust="spacingAndGlyphs">/</tspan><tspan textLength="9.8" lengthAdjust="spacingAndGlyphs">5</tspan><tspan class="sl" font-size="21.6" textLength="9.9" lengthAdjust="spacingAndGlyphs">/</tspan><tspan textLength="19.6" lengthAdjust="spacingAndGlyphs">30</tspan></text>
<text class="nv" transform="translate(273.5,450) rotate(-90)" font-size="20.4" text-anchor="end"><tspan textLength="19.6" lengthAdjust="spacingAndGlyphs">23</tspan><tspan class="sl" font-size="21.6" textLength="9.9" lengthAdjust="spacingAndGlyphs">/</tspan><tspan textLength="9.8" lengthAdjust="spacingAndGlyphs">6</tspan><tspan class="sl" font-size="21.6" textLength="9.9" lengthAdjust="spacingAndGlyphs">/</tspan><tspan textLength="19.6" lengthAdjust="spacingAndGlyphs">20</tspan></text>
<text class="nv" transform="translate(290.7,450) rotate(-90)" font-size="20.4" text-anchor="end"><tspan textLength="19.6" lengthAdjust="spacingAndGlyphs">23</tspan><tspan class="sl" font-size="21.6" textLength="9.9" lengthAdjust="spacingAndGlyphs">/</tspan><tspan textLength="9.8" lengthAdjust="spacingAndGlyphs">7</tspan><tspan class="sl" font-size="21.6" textLength="9.9" lengthAdjust="spacingAndGlyphs">/</tspan><tspan textLength="19.6" lengthAdjust="spacingAndGlyphs">11</tspan></text>
<text class="nv" transform="translate(307.9,450) rotate(-90)" font-size="20.4" text-anchor="end"><tspan textLength="19.6" lengthAdjust="spacingAndGlyphs">23</tspan><tspan class="sl" font-size="21.6" textLength="9.9" lengthAdjust="spacingAndGlyphs">/</tspan><tspan textLength="9.8" lengthAdjust="spacingAndGlyphs">8</tspan><tspan class="sl" font-size="21.6" textLength="9.9" lengthAdjust="spacingAndGlyphs">/</tspan><tspan textLength="9.8" lengthAdjust="spacingAndGlyphs">1</tspan></text>
<text class="nv" transform="translate(325.1,450) rotate(-90)" font-size="20.4" text-anchor="end"><tspan textLength="19.6" lengthAdjust="spacingAndGlyphs">23</tspan><tspan class="sl" font-size="21.6" textLength="9.9" lengthAdjust="spacingAndGlyphs">/</tspan><tspan textLength="9.8" lengthAdjust="spacingAndGlyphs">8</tspan><tspan class="sl" font-size="21.6" textLength="9.9" lengthAdjust="spacingAndGlyphs">/</tspan><tspan textLength="19.6" lengthAdjust="spacingAndGlyphs">22</tspan></text>
<text class="nv" transform="translate(342.3,450) rotate(-90)" font-size="20.4" text-anchor="end"><tspan textLength="19.6" lengthAdjust="spacingAndGlyphs">23</tspan><tspan class="sl" font-size="21.6" textLength="9.9" lengthAdjust="spacingAndGlyphs">/</tspan><tspan textLength="9.8" lengthAdjust="spacingAndGlyphs">9</tspan><tspan class="sl" font-size="21.6" textLength="9.9" lengthAdjust="spacingAndGlyphs">/</tspan><tspan textLength="19.6" lengthAdjust="spacingAndGlyphs">12</tspan></text>
<text class="nv" transform="translate(359.6,450) rotate(-90)" font-size="20.4" text-anchor="end"><tspan textLength="19.6" lengthAdjust="spacingAndGlyphs">23</tspan><tspan class="sl" font-size="21.6" textLength="9.9" lengthAdjust="spacingAndGlyphs">/</tspan><tspan textLength="19.6" lengthAdjust="spacingAndGlyphs">10</tspan><tspan class="sl" font-size="21.6" textLength="9.9" lengthAdjust="spacingAndGlyphs">/</tspan><tspan textLength="9.8" lengthAdjust="spacingAndGlyphs">3</tspan></text>
<text class="nv" transform="translate(376.8,450) rotate(-90)" font-size="20.4" text-anchor="end"><tspan textLength="19.6" lengthAdjust="spacingAndGlyphs">23</tspan><tspan class="sl" font-size="21.6" textLength="9.9" lengthAdjust="spacingAndGlyphs">/</tspan><tspan textLength="19.6" lengthAdjust="spacingAndGlyphs">10</tspan><tspan class="sl" font-size="21.6" textLength="9.9" lengthAdjust="spacingAndGlyphs">/</tspan><tspan textLength="19.6" lengthAdjust="spacingAndGlyphs">24</tspan></text>
<text class="nv" transform="translate(394.0,450) rotate(-90)" font-size="20.4" text-anchor="end"><tspan textLength="19.6" lengthAdjust="spacingAndGlyphs">23</tspan><tspan class="sl" font-size="21.6" textLength="9.9" lengthAdjust="spacingAndGlyphs">/</tspan><tspan textLength="19.6" lengthAdjust="spacingAndGlyphs">11</tspan><tspan class="sl" font-size="21.6" textLength="9.9" lengthAdjust="spacingAndGlyphs">/</tspan><tspan textLength="19.6" lengthAdjust="spacingAndGlyphs">14</tspan></text>
<text class="nv" transform="translate(411.2,450) rotate(-90)" font-size="20.4" text-anchor="end"><tspan textLength="19.6" lengthAdjust="spacingAndGlyphs">23</tspan><tspan class="sl" font-size="21.6" textLength="9.9" lengthAdjust="spacingAndGlyphs">/</tspan><tspan textLength="19.6" lengthAdjust="spacingAndGlyphs">12</tspan><tspan class="sl" font-size="21.6" textLength="9.9" lengthAdjust="spacingAndGlyphs">/</tspan><tspan textLength="9.8" lengthAdjust="spacingAndGlyphs">5</tspan></text>
<text class="nv" transform="translate(428.4,450) rotate(-90)" font-size="20.4" text-anchor="end"><tspan textLength="19.6" lengthAdjust="spacingAndGlyphs">23</tspan><tspan class="sl" font-size="21.6" textLength="9.9" lengthAdjust="spacingAndGlyphs">/</tspan><tspan textLength="19.6" lengthAdjust="spacingAndGlyphs">12</tspan><tspan class="sl" font-size="21.6" textLength="9.9" lengthAdjust="spacingAndGlyphs">/</tspan><tspan textLength="19.6" lengthAdjust="spacingAndGlyphs">26</tspan></text>
<text class="nv" transform="translate(445.7,450) rotate(-90)" font-size="20.4" text-anchor="end"><tspan textLength="19.6" lengthAdjust="spacingAndGlyphs">24</tspan><tspan class="sl" font-size="21.6" textLength="9.9" lengthAdjust="spacingAndGlyphs">/</tspan><tspan textLength="9.8" lengthAdjust="spacingAndGlyphs">1</tspan><tspan class="sl" font-size="21.6" textLength="9.9" lengthAdjust="spacingAndGlyphs">/</tspan><tspan textLength="19.6" lengthAdjust="spacingAndGlyphs">16</tspan></text>
<text class="nv" transform="translate(462.9,450) rotate(-90)" font-size="20.4" text-anchor="end"><tspan textLength="19.6" lengthAdjust="spacingAndGlyphs">24</tspan><tspan class="sl" font-size="21.6" textLength="9.9" lengthAdjust="spacingAndGlyphs">/</tspan><tspan textLength="9.8" lengthAdjust="spacingAndGlyphs">2</tspan><tspan class="sl" font-size="21.6" textLength="9.9" lengthAdjust="spacingAndGlyphs">/</tspan><tspan textLength="9.8" lengthAdjust="spacingAndGlyphs">6</tspan></text>
<text class="nv" transform="translate(480.1,450) rotate(-90)" font-size="20.4" text-anchor="end"><tspan textLength="19.6" lengthAdjust="spacingAndGlyphs">24</tspan><tspan class="sl" font-size="21.6" textLength="9.9" lengthAdjust="spacingAndGlyphs">/</tspan><tspan textLength="9.8" lengthAdjust="spacingAndGlyphs">2</tspan><tspan class="sl" font-size="21.6" textLength="9.9" lengthAdjust="spacingAndGlyphs">/</tspan><tspan textLength="19.6" lengthAdjust="spacingAndGlyphs">27</tspan></text>
<text class="nv" transform="translate(497.3,450) rotate(-90)" font-size="20.4" text-anchor="end"><tspan textLength="19.6" lengthAdjust="spacingAndGlyphs">24</tspan><tspan class="sl" font-size="21.6" textLength="9.9" lengthAdjust="spacingAndGlyphs">/</tspan><tspan textLength="9.8" lengthAdjust="spacingAndGlyphs">3</tspan><tspan class="sl" font-size="21.6" textLength="9.9" lengthAdjust="spacingAndGlyphs">/</tspan><tspan textLength="19.6" lengthAdjust="spacingAndGlyphs">19</tspan></text>
<text class="nv" transform="translate(514.5,450) rotate(-90)" font-size="20.4" text-anchor="end"><tspan textLength="19.6" lengthAdjust="spacingAndGlyphs">24</tspan><tspan class="sl" font-size="21.6" textLength="9.9" lengthAdjust="spacingAndGlyphs">/</tspan><tspan textLength="9.8" lengthAdjust="spacingAndGlyphs">4</tspan><tspan class="sl" font-size="21.6" textLength="9.9" lengthAdjust="spacingAndGlyphs">/</tspan><tspan textLength="9.8" lengthAdjust="spacingAndGlyphs">9</tspan></text>
<text class="nv" transform="translate(531.8,450) rotate(-90)" font-size="20.4" text-anchor="end"><tspan textLength="19.6" lengthAdjust="spacingAndGlyphs">24</tspan><tspan class="sl" font-size="21.6" textLength="9.9" lengthAdjust="spacingAndGlyphs">/</tspan><tspan textLength="9.8" lengthAdjust="spacingAndGlyphs">4</tspan><tspan class="sl" font-size="21.6" textLength="9.9" lengthAdjust="spacingAndGlyphs">/</tspan><tspan textLength="19.6" lengthAdjust="spacingAndGlyphs">30</tspan></text>
<text class="nv" transform="translate(549.0,450) rotate(-90)" font-size="20.4" text-anchor="end"><tspan textLength="19.6" lengthAdjust="spacingAndGlyphs">24</tspan><tspan class="sl" font-size="21.6" textLength="9.9" lengthAdjust="spacingAndGlyphs">/</tspan><tspan textLength="9.8" lengthAdjust="spacingAndGlyphs">5</tspan><tspan class="sl" font-size="21.6" textLength="9.9" lengthAdjust="spacingAndGlyphs">/</tspan><tspan textLength="19.6" lengthAdjust="spacingAndGlyphs">21</tspan></text>
<text class="nv" transform="translate(566.2,450) rotate(-90)" font-size="20.4" text-anchor="end"><tspan textLength="19.6" lengthAdjust="spacingAndGlyphs">24</tspan><tspan class="sl" font-size="21.6" textLength="9.9" lengthAdjust="spacingAndGlyphs">/</tspan><tspan textLength="9.8" lengthAdjust="spacingAndGlyphs">6</tspan><tspan class="sl" font-size="21.6" textLength="9.9" lengthAdjust="spacingAndGlyphs">/</tspan><tspan textLength="19.6" lengthAdjust="spacingAndGlyphs">11</tspan></text>
<text class="nv" transform="translate(583.4,450) rotate(-90)" font-size="20.4" text-anchor="end"><tspan textLength="19.6" lengthAdjust="spacingAndGlyphs">24</tspan><tspan class="sl" font-size="21.6" textLength="9.9" lengthAdjust="spacingAndGlyphs">/</tspan><tspan textLength="9.8" lengthAdjust="spacingAndGlyphs">7</tspan><tspan class="sl" font-size="21.6" textLength="9.9" lengthAdjust="spacingAndGlyphs">/</tspan><tspan textLength="9.8" lengthAdjust="spacingAndGlyphs">2</tspan></text>
<text class="nv" transform="translate(600.6,450) rotate(-90)" font-size="20.4" text-anchor="end"><tspan textLength="19.6" lengthAdjust="spacingAndGlyphs">24</tspan><tspan class="sl" font-size="21.6" textLength="9.9" lengthAdjust="spacingAndGlyphs">/</tspan><tspan textLength="9.8" lengthAdjust="spacingAndGlyphs">7</tspan><tspan class="sl" font-size="21.6" textLength="9.9" lengthAdjust="spacingAndGlyphs">/</tspan><tspan textLength="19.6" lengthAdjust="spacingAndGlyphs">23</tspan></text>
<text class="nv" transform="translate(617.9,450) rotate(-90)" font-size="20.4" text-anchor="end"><tspan textLength="19.6" lengthAdjust="spacingAndGlyphs">24</tspan><tspan class="sl" font-size="21.6" textLength="9.9" lengthAdjust="spacingAndGlyphs">/</tspan><tspan textLength="9.8" lengthAdjust="spacingAndGlyphs">8</tspan><tspan class="sl" font-size="21.6" textLength="9.9" lengthAdjust="spacingAndGlyphs">/</tspan><tspan textLength="19.6" lengthAdjust="spacingAndGlyphs">13</tspan></text>
<text class="nv" transform="translate(635.1,450) rotate(-90)" font-size="20.4" text-anchor="end"><tspan textLength="19.6" lengthAdjust="spacingAndGlyphs">24</tspan><tspan class="sl" font-size="21.6" textLength="9.9" lengthAdjust="spacingAndGlyphs">/</tspan><tspan textLength="9.8" lengthAdjust="spacingAndGlyphs">9</tspan><tspan class="sl" font-size="21.6" textLength="9.9" lengthAdjust="spacingAndGlyphs">/</tspan><tspan textLength="9.8" lengthAdjust="spacingAndGlyphs">3</tspan></text>
<text class="nv" transform="translate(652.3,450) rotate(-90)" font-size="20.4" text-anchor="end"><tspan textLength="19.6" lengthAdjust="spacingAndGlyphs">24</tspan><tspan class="sl" font-size="21.6" textLength="9.9" lengthAdjust="spacingAndGlyphs">/</tspan><tspan textLength="9.8" lengthAdjust="spacingAndGlyphs">9</tspan><tspan class="sl" font-size="21.6" textLength="9.9" lengthAdjust="spacingAndGlyphs">/</tspan><tspan textLength="19.6" lengthAdjust="spacingAndGlyphs">24</tspan></text>
<text class="nv" transform="translate(669.5,450) rotate(-90)" font-size="20.4" text-anchor="end"><tspan textLength="19.6" lengthAdjust="spacingAndGlyphs">24</tspan><tspan class="sl" font-size="21.6" textLength="9.9" lengthAdjust="spacingAndGlyphs">/</tspan><tspan textLength="19.6" lengthAdjust="spacingAndGlyphs">10</tspan><tspan class="sl" font-size="21.6" textLength="9.9" lengthAdjust="spacingAndGlyphs">/</tspan><tspan textLength="19.6" lengthAdjust="spacingAndGlyphs">15</tspan></text>
<text class="nv" transform="translate(686.7,450) rotate(-90)" font-size="20.4" text-anchor="end"><tspan textLength="19.6" lengthAdjust="spacingAndGlyphs">24</tspan><tspan class="sl" font-size="21.6" textLength="9.9" lengthAdjust="spacingAndGlyphs">/</tspan><tspan textLength="19.6" lengthAdjust="spacingAndGlyphs">11</tspan><tspan class="sl" font-size="21.6" textLength="9.9" lengthAdjust="spacingAndGlyphs">/</tspan><tspan textLength="9.8" lengthAdjust="spacingAndGlyphs">5</tspan></text>
<text class="nv" transform="translate(704.0,450) rotate(-90)" font-size="20.4" text-anchor="end"><tspan textLength="19.6" lengthAdjust="spacingAndGlyphs">24</tspan><tspan class="sl" font-size="21.6" textLength="9.9" lengthAdjust="spacingAndGlyphs">/</tspan><tspan textLength="19.6" lengthAdjust="spacingAndGlyphs">11</tspan><tspan class="sl" font-size="21.6" textLength="9.9" lengthAdjust="spacingAndGlyphs">/</tspan><tspan textLength="19.6" lengthAdjust="spacingAndGlyphs">26</tspan></text>
<text class="nv" transform="translate(721.2,450) rotate(-90)" font-size="20.4" text-anchor="end"><tspan textLength="19.6" lengthAdjust="spacingAndGlyphs">24</tspan><tspan class="sl" font-size="21.6" textLength="9.9" lengthAdjust="spacingAndGlyphs">/</tspan><tspan textLength="19.6" lengthAdjust="spacingAndGlyphs">12</tspan><tspan class="sl" font-size="21.6" textLength="9.9" lengthAdjust="spacingAndGlyphs">/</tspan><tspan textLength="19.6" lengthAdjust="spacingAndGlyphs">17</tspan></text>
<text class="nv" transform="translate(738.4,450) rotate(-90)" font-size="20.4" text-anchor="end"><tspan textLength="19.6" lengthAdjust="spacingAndGlyphs">25</tspan><tspan class="sl" font-size="21.6" textLength="9.9" lengthAdjust="spacingAndGlyphs">/</tspan><tspan textLength="9.8" lengthAdjust="spacingAndGlyphs">1</tspan><tspan class="sl" font-size="21.6" textLength="9.9" lengthAdjust="spacingAndGlyphs">/</tspan><tspan textLength="9.8" lengthAdjust="spacingAndGlyphs">7</tspan></text>
<text class="nv" transform="translate(755.6,450) rotate(-90)" font-size="20.4" text-anchor="end"><tspan textLength="19.6" lengthAdjust="spacingAndGlyphs">25</tspan><tspan class="sl" font-size="21.6" textLength="9.9" lengthAdjust="spacingAndGlyphs">/</tspan><tspan textLength="9.8" lengthAdjust="spacingAndGlyphs">1</tspan><tspan class="sl" font-size="21.6" textLength="9.9" lengthAdjust="spacingAndGlyphs">/</tspan><tspan textLength="19.6" lengthAdjust="spacingAndGlyphs">28</tspan></text>
<text class="nv" transform="translate(772.8,450) rotate(-90)" font-size="20.4" text-anchor="end"><tspan textLength="19.6" lengthAdjust="spacingAndGlyphs">25</tspan><tspan class="sl" font-size="21.6" textLength="9.9" lengthAdjust="spacingAndGlyphs">/</tspan><tspan textLength="9.8" lengthAdjust="spacingAndGlyphs">2</tspan><tspan class="sl" font-size="21.6" textLength="9.9" lengthAdjust="spacingAndGlyphs">/</tspan><tspan textLength="19.6" lengthAdjust="spacingAndGlyphs">18</tspan></text>
<text class="nv" transform="translate(790.1,450) rotate(-90)" font-size="20.4" text-anchor="end"><tspan textLength="19.6" lengthAdjust="spacingAndGlyphs">25</tspan><tspan class="sl" font-size="21.6" textLength="9.9" lengthAdjust="spacingAndGlyphs">/</tspan><tspan textLength="9.8" lengthAdjust="spacingAndGlyphs">3</tspan><tspan class="sl" font-size="21.6" textLength="9.9" lengthAdjust="spacingAndGlyphs">/</tspan><tspan textLength="19.6" lengthAdjust="spacingAndGlyphs">11</tspan></text>
<text class="nv" transform="translate(807.3,450) rotate(-90)" font-size="20.4" text-anchor="end"><tspan textLength="19.6" lengthAdjust="spacingAndGlyphs">25</tspan><tspan class="sl" font-size="21.6" textLength="9.9" lengthAdjust="spacingAndGlyphs">/</tspan><tspan textLength="9.8" lengthAdjust="spacingAndGlyphs">4</tspan><tspan class="sl" font-size="21.6" textLength="9.9" lengthAdjust="spacingAndGlyphs">/</tspan><tspan textLength="9.8" lengthAdjust="spacingAndGlyphs">1</tspan></text>
<text class="nv" transform="translate(824.5,450) rotate(-90)" font-size="20.4" text-anchor="end"><tspan textLength="19.6" lengthAdjust="spacingAndGlyphs">25</tspan><tspan class="sl" font-size="21.6" textLength="9.9" lengthAdjust="spacingAndGlyphs">/</tspan><tspan textLength="9.8" lengthAdjust="spacingAndGlyphs">4</tspan><tspan class="sl" font-size="21.6" textLength="9.9" lengthAdjust="spacingAndGlyphs">/</tspan><tspan textLength="19.6" lengthAdjust="spacingAndGlyphs">22</tspan></text>
<text class="nv" transform="translate(841.7,450) rotate(-90)" font-size="20.4" text-anchor="end"><tspan textLength="19.6" lengthAdjust="spacingAndGlyphs">25</tspan><tspan class="sl" font-size="21.6" textLength="9.9" lengthAdjust="spacingAndGlyphs">/</tspan><tspan textLength="9.8" lengthAdjust="spacingAndGlyphs">5</tspan><tspan class="sl" font-size="21.6" textLength="9.9" lengthAdjust="spacingAndGlyphs">/</tspan><tspan textLength="19.6" lengthAdjust="spacingAndGlyphs">13</tspan></text>
<text class="nv" transform="translate(858.9,450) rotate(-90)" font-size="20.4" text-anchor="end"><tspan textLength="19.6" lengthAdjust="spacingAndGlyphs">25</tspan><tspan class="sl" font-size="21.6" textLength="9.9" lengthAdjust="spacingAndGlyphs">/</tspan><tspan textLength="9.8" lengthAdjust="spacingAndGlyphs">6</tspan><tspan class="sl" font-size="21.6" textLength="9.9" lengthAdjust="spacingAndGlyphs">/</tspan><tspan textLength="9.8" lengthAdjust="spacingAndGlyphs">3</tspan></text>
<text class="nv" transform="translate(876.2,450) rotate(-90)" font-size="20.4" text-anchor="end"><tspan textLength="19.6" lengthAdjust="spacingAndGlyphs">25</tspan><tspan class="sl" font-size="21.6" textLength="9.9" lengthAdjust="spacingAndGlyphs">/</tspan><tspan textLength="9.8" lengthAdjust="spacingAndGlyphs">6</tspan><tspan class="sl" font-size="21.6" textLength="9.9" lengthAdjust="spacingAndGlyphs">/</tspan><tspan textLength="19.6" lengthAdjust="spacingAndGlyphs">24</tspan></text>
<text class="nv" transform="translate(893.4,450) rotate(-90)" font-size="20.4" text-anchor="end"><tspan textLength="19.6" lengthAdjust="spacingAndGlyphs">25</tspan><tspan class="sl" font-size="21.6" textLength="9.9" lengthAdjust="spacingAndGlyphs">/</tspan><tspan textLength="9.8" lengthAdjust="spacingAndGlyphs">7</tspan><tspan class="sl" font-size="21.6" textLength="9.9" lengthAdjust="spacingAndGlyphs">/</tspan><tspan textLength="19.6" lengthAdjust="spacingAndGlyphs">15</tspan></text>
<text class="nv" transform="translate(910.6,450) rotate(-90)" font-size="20.4" text-anchor="end"><tspan textLength="19.6" lengthAdjust="spacingAndGlyphs">25</tspan><tspan class="sl" font-size="21.6" textLength="9.9" lengthAdjust="spacingAndGlyphs">/</tspan><tspan textLength="9.8" lengthAdjust="spacingAndGlyphs">8</tspan><tspan class="sl" font-size="21.6" textLength="9.9" lengthAdjust="spacingAndGlyphs">/</tspan><tspan textLength="9.8" lengthAdjust="spacingAndGlyphs">5</tspan></text>
<text class="nv" transform="translate(927.8,450) rotate(-90)" font-size="20.4" text-anchor="end"><tspan textLength="19.6" lengthAdjust="spacingAndGlyphs">25</tspan><tspan class="sl" font-size="21.6" textLength="9.9" lengthAdjust="spacingAndGlyphs">/</tspan><tspan textLength="9.8" lengthAdjust="spacingAndGlyphs">8</tspan><tspan class="sl" font-size="21.6" textLength="9.9" lengthAdjust="spacingAndGlyphs">/</tspan><tspan textLength="19.6" lengthAdjust="spacingAndGlyphs">26</tspan></text>
<text class="nv" transform="translate(945.0,450) rotate(-90)" font-size="20.4" text-anchor="end"><tspan textLength="19.6" lengthAdjust="spacingAndGlyphs">25</tspan><tspan class="sl" font-size="21.6" textLength="9.9" lengthAdjust="spacingAndGlyphs">/</tspan><tspan textLength="9.8" lengthAdjust="spacingAndGlyphs">9</tspan><tspan class="sl" font-size="21.6" textLength="9.9" lengthAdjust="spacingAndGlyphs">/</tspan><tspan textLength="19.6" lengthAdjust="spacingAndGlyphs">16</tspan></text>
<text class="nv" transform="translate(962.3,450) rotate(-90)" font-size="20.4" text-anchor="end"><tspan textLength="19.6" lengthAdjust="spacingAndGlyphs">25</tspan><tspan class="sl" font-size="21.6" textLength="9.9" lengthAdjust="spacingAndGlyphs">/</tspan><tspan textLength="19.6" lengthAdjust="spacingAndGlyphs">10</tspan><tspan class="sl" font-size="21.6" textLength="9.9" lengthAdjust="spacingAndGlyphs">/</tspan><tspan textLength="9.8" lengthAdjust="spacingAndGlyphs">7</tspan></text>
<text class="nv" transform="translate(979.5,450) rotate(-90)" font-size="20.4" text-anchor="end"><tspan textLength="19.6" lengthAdjust="spacingAndGlyphs">25</tspan><tspan class="sl" font-size="21.6" textLength="9.9" lengthAdjust="spacingAndGlyphs">/</tspan><tspan textLength="19.6" lengthAdjust="spacingAndGlyphs">10</tspan><tspan class="sl" font-size="21.6" textLength="9.9" lengthAdjust="spacingAndGlyphs">/</tspan><tspan textLength="19.6" lengthAdjust="spacingAndGlyphs">28</tspan></text>
<text x="24.5" y="94" font-size="15.5" fill="#333" textLength="40.5" lengthAdjust="spacingAndGlyphs">元/吨</text>
<text x="995.5" y="93.6" font-size="16.3" fill="#333">吨</text>
<text class="tt" y="44.8" font-size="30.7"><tspan x="35.3" textLength="76.5" lengthAdjust="spacingAndGlyphs"><tspan font-size="31.4" stroke="#14215c" stroke-width="0.5">JCI</tspan>：</tspan><tspan x="111.8" textLength="339" lengthAdjust="spacingAndGlyphs"><tspan font-size="31.4" stroke="#14215c" stroke-width="0.5">2022</tspan>年<tspan font-size="31.4" stroke="#14215c" stroke-width="0.5">11</tspan>月<tspan font-size="31.4" stroke="#14215c" stroke-width="0.5">-2025</tspan>年<tspan font-size="31.4" stroke="#14215c" stroke-width="0.5">10</tspan>月</tspan><tspan x="451" textLength="430.5" lengthAdjust="spacingAndGlyphs">我国豆粕日成交量与日均价对比</tspan></text>
<rect x="226.4" y="126.8" width="38" height="13.8" fill="#f2994d" filter="url(#inner2)"/>
<rect x="226.4" y="126.8" width="38" height="13.8" fill="none" stroke="#f4625c" stroke-width="1.4"/>
<text class="lg" x="273.8" y="141.6" font-size="20.6" textLength="207.6" lengthAdjust="spacingAndGlyphs">国内豆粕日成交总量</text>
<path d="M559.5,133.7 H597.2" stroke="#4a7dbd" stroke-width="4.3" stroke-linecap="round"/>
<text class="lg" x="607.6" y="141.6" font-size="20.6" textLength="206.6" lengthAdjust="spacingAndGlyphs">国内豆粕现货日均价</text>
<g fill="#bcbcbc">
<ellipse cx="766.3" cy="539.8" rx="14.6" ry="10.6"/>
<path d="M757,548 l-2.5,6 l7,-3.5 z"/>
<ellipse cx="780.5" cy="549.6" rx="13.4" ry="9.2" fill="#fff"/>
<ellipse cx="780.5" cy="549.6" rx="12.2" ry="8.2"/>
<path d="M787,556 l3,4 l-6.5,-2.5 z"/>
<circle cx="761.5" cy="536.5" r="1.9" fill="#fff"/><circle cx="771" cy="536.5" r="1.9" fill="#fff"/>
<circle cx="776.5" cy="547.3" r="1.5" fill="#fff"/><circle cx="784.5" cy="547.3" r="1.5" fill="#fff"/>
</g>
<text x="801" y="558.6" font-size="28" fill="#b6b6b6" textLength="245" lengthAdjust="spacing">公众号 · 汇易咨询</text>
<text x="746.6" y="568.6" font-size="21.4" font-weight="350" fill="#1a1a1a" textLength="252" lengthAdjust="spacingAndGlyphs">数据来源：汇易大数据中心</text>
</svg></body></html>
